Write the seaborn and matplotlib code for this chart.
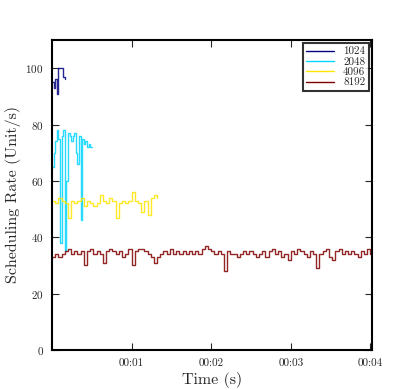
# scheduling rate over time, one line per batch size
import matplotlib
matplotlib.use("Agg")
import matplotlib.pyplot as plt
import matplotlib.ticker as mticker
import seaborn as sns
import pandas as pd
import numpy as np

sizes = ["1024", "2048", "4096", "8192"]

t_1024 = [0.00, 0.02, 0.04, 0.06, 0.08, 0.10, 0.12, 0.14, 0.16]
r_1024 = [95, 93, 96, 91, 100, 100, 100, 97, 96]

t_2048 = [0.00, 0.02, 0.04, 0.06, 0.08, 0.10, 0.12, 0.14, 0.16, 0.18,
          0.20, 0.22, 0.24, 0.26, 0.28, 0.30, 0.32, 0.34, 0.36, 0.38,
          0.40, 0.42, 0.44, 0.46, 0.48, 0.50]
r_2048 = [65, 70, 74, 78, 75, 38, 76, 78, 35, 60,
          77, 76, 74, 76, 77, 70, 66, 76, 46, 75,
          73, 74, 72, 73, 72, 72]

t_4096 = [0.00, 0.04, 0.08, 0.12, 0.16, 0.20, 0.24, 0.28, 0.32, 0.36,
          0.40, 0.44, 0.48, 0.52, 0.56, 0.60, 0.64, 0.68, 0.72, 0.76,
          0.80, 0.84, 0.88, 0.92, 0.96, 1.00, 1.04, 1.08, 1.12, 1.16,
          1.20, 1.24, 1.28, 1.32]
r_4096 = [53, 52, 54, 53, 52, 47, 53, 52, 53, 54,
          51, 53, 52, 51, 52, 55, 53, 52, 54, 53,
          47, 52, 53, 52, 53, 56, 53, 52, 49, 53,
          48, 54, 55, 54]

t_8192 = [round(0.04 * i, 2) for i in range(101)]
r_8192 = [33, 34, 33, 34, 35, 36, 34, 35, 34, 35,
          30, 35, 36, 34, 35, 34, 31, 35, 36, 35,
          34, 35, 33, 34, 36, 30, 35, 36, 36, 35,
          34, 33, 31, 33, 34, 35, 34, 36, 34, 35,
          34, 35, 34, 35, 34, 35, 34, 36, 37, 36,
          35, 34, 35, 34, 28, 35, 34, 34, 33, 34,
          35, 34, 35, 34, 33, 34, 35, 33, 35, 36,
          34, 35, 33, 34, 32, 35, 34, 36, 35, 34,
          33, 35, 34, 29, 34, 35, 36, 33, 32, 35,
          36, 34, 35, 34, 35, 34, 33, 35, 34, 36, 34]

frames = []
for name, t, r in zip(sizes, [t_1024, t_2048, t_4096, t_8192],
                      [r_1024, r_2048, r_4096, r_8192]):
    frames.append(pd.DataFrame({"time": t, "rate": r, "size": name}))
df = pd.concat(frames, ignore_index=True)

sns.set_style("ticks")
plt.rcParams["font.family"] = "serif"
plt.rcParams["font.serif"] = ["cmr10"]
plt.rcParams["mathtext.fontset"] = "cm"
plt.rcParams["axes.formatter.use_mathtext"] = True

jet = matplotlib.colormaps["jet"](np.linspace(0, 1, 4))
palette = dict(zip(sizes, [tuple(c) for c in jet]))

fig = plt.figure(figsize=(4.15, 3.9), dpi=100)
ax = fig.add_axes([0.1253, 0.1026, 0.7711, 0.7949])

sns.lineplot(data=df, x="time", y="rate", hue="size", palette=palette,
             estimator=None, drawstyle="steps-post", linewidth=1.0,
             alpha=0.85, legend=False, ax=ax)

ax.set_xlim(0, 4.02)
ax.set_ylim(0, 110)
ax.set_xticks([1, 2, 3, 4])
ax.xaxis.set_major_formatter(mticker.FuncFormatter(lambda v, p: "00:%02d" % int(round(v))))
ax.set_yticks([0, 20, 40, 60, 80, 100])
ax.tick_params(direction="in", length=5, width=0.8, labelsize=8,
               top=True, right=True, pad=6)
for s in ax.spines.values():
    s.set_linewidth(1.5)
    s.set_color("black")

ax.set_xlabel("Time (s)", fontsize=11.5, labelpad=3)
ax.set_ylabel("Scheduling Rate (Unit/s)", fontsize=11.5, labelpad=3)

handles = ax.get_lines()[:4]
leg = ax.legend(handles, sizes, loc="upper right", fontsize=8,
                frameon=True, fancybox=False, edgecolor="black",
                handlelength=2.5, borderpad=0.3, labelspacing=0.05,
                borderaxespad=0.3)
leg.get_frame().set_linewidth(1.5)
for h in leg.get_lines():
    h.set_alpha(1)

fig.savefig("out.png", dpi=100)
